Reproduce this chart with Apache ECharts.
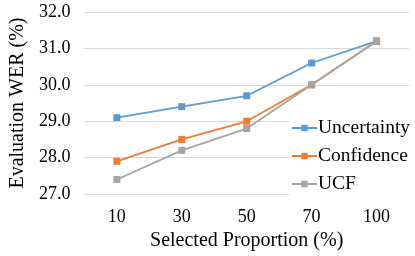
<!DOCTYPE html>
<html><head><meta charset="utf-8">
<script src="https://cdn.jsdelivr.net/npm/echarts@6/dist/echarts.min.js"></script>
<style>html,body{margin:0;padding:0;background:#fff}#c{width:415px;height:256px}</style>
</head><body><div id="c"></div>
<script>
var categories = ['10', '30', '50', '70', '100'];
var uncertainty = [29.1, 29.4, 29.7, 30.6, 31.2];
var confidence = [27.9, 28.5, 29.0, 30.0, 31.2];
var ucf = [27.4, 28.2, 28.8, 30.0, 31.2];
var seriesNames = ['Uncertainty', 'Confidence', 'UCF'];
var colors = ['#5B9BD5', '#ED7D31', '#A5A5A5'];
var font = 'Liberation Serif';
var chart = echarts.init(document.getElementById('c'), null, {renderer: 'canvas'});
function mk(name, data, color) {
  return {
    name: name, type: 'line', data: data, symbol: 'rect', symbolSize: 7,
    itemStyle: {color: color}, lineStyle: {color: color, width: 1.8}, z: 2
  };
}
chart.setOption({
  animation: false,
  textStyle: {fontFamily: font},
  grid: {left: 76, right: 6, top: 12, bottom: 59},
  xAxis: {
    type: 'category', data: categories, boundaryGap: true,
    axisLine: {show: false}, axisTick: {show: false},
    axisLabel: {fontFamily: font, fontSize: 18, color: '#000', margin: 14},
    name: 'Selected Proportion (%)', nameLocation: 'middle', nameGap: 35,
    nameTextStyle: {fontFamily: font, fontSize: 20, color: '#000'}
  },
  yAxis: {
    type: 'value', min: 27, max: 32, interval: 1,
    axisLine: {show: false}, axisTick: {show: false},
    splitLine: {lineStyle: {color: '#d9d9d9', width: 1}},
    axisLabel: {fontFamily: font, fontSize: 18, color: '#000', margin: 14,
      formatter: function (v) { return v.toFixed(1); }},
    name: 'Evaluation WER (%)', nameLocation: 'middle', nameGap: 54,
    nameTextStyle: {fontFamily: font, fontSize: 20, color: '#000'}
  },
  legend: {
    orient: 'vertical', left: 289, top: 114, itemGap: 8,
    itemWidth: 25, itemHeight: 8, padding: [4, 2, 4, 2],
    backgroundColor: '#fff',
    data: seriesNames,
    textStyle: {fontFamily: font, fontSize: 19.5, color: '#000', padding: [0, 0, 0, -4]}
  },
  series: [
    mk(seriesNames[0], uncertainty, colors[0]),
    mk(seriesNames[1], confidence, colors[1]),
    mk(seriesNames[2], ucf, colors[2])
  ]
});
</script></body></html>
